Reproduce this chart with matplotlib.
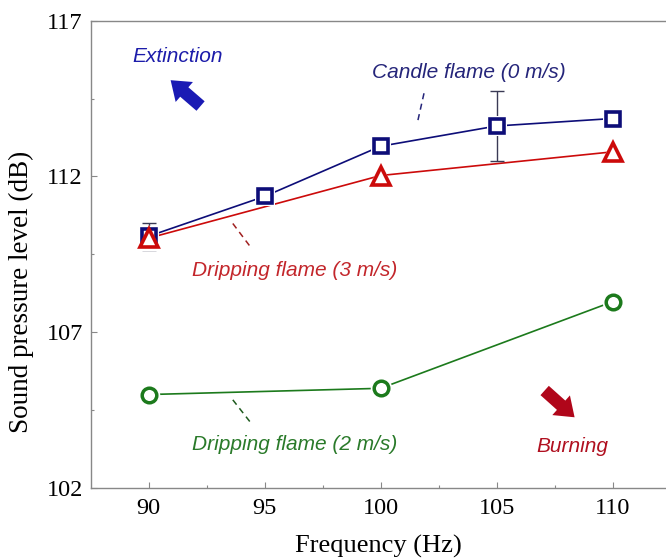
import matplotlib
matplotlib.use("Agg")
import matplotlib.pyplot as plt

# sound pressure level vs. excitation frequency
freq_candle = [90, 95, 100, 105, 110]
spl_candle = [110.08, 111.36, 112.97, 113.62, 113.86]
err_candle = [0.43, 0.0, 0.10, 1.13, 0.0]

freq_drip3 = [90, 100, 110]
spl_drip3 = [110.02, 112.03, 112.79]

freq_drip2 = [90, 100, 110]
spl_drip2 = [105.0, 105.2, 107.98]

xticks = [90, 95, 100, 105, 110]
yticks = [102, 107, 112, 117]

navy = "#0d0d78"
red = "#cc0a0a"
green = "#1c7a1c"

serif = "Liberation Serif"
sans = "Liberation Sans"

fig = plt.figure(figsize=(6.66, 5.59), dpi=100)
ax = fig.add_axes([0.136, 0.127, 0.864, 0.836])


def series(x, y, color, marker, ms, mew, lw=1.2):
    ax.plot(x, y, color=color, lw=lw, zorder=2)
    # white halo so the line stops short of each marker
    ax.plot(x, y, ls="none", marker=marker, ms=ms + 5, mfc="white",
            mec="white", mew=0, zorder=3)
    ax.plot(x, y, ls="none", marker=marker, ms=ms, mfc="white",
            mec=color, mew=mew, zorder=4)


# error bars of the candle flame
ax.errorbar(freq_candle, spl_candle, yerr=err_candle, fmt="none",
            ecolor="#3a3a55", elinewidth=1.0, capsize=5, capthick=1.0,
            zorder=2.5)

series(freq_drip2, spl_drip2, green, "o", 10.5, 2.5)
series(freq_candle, spl_candle, navy, "s", 9.5, 2.6)
series(freq_drip3, spl_drip3, red, "^", 13.5, 2.6)

ax.set_xlim(87.5, 112.3)
ax.set_ylim(102, 117)
ax.set_xticks(xticks)
ax.set_yticks(yticks)
ax.set_xticks([92.5, 97.5, 102.5, 107.5], minor=True)
ax.set_yticks([104.5, 109.5, 114.5], minor=True)
ax.tick_params(which="both", direction="in", color="#888888")
ax.tick_params(which="major", length=4, width=0.8, labelsize=17.5)
ax.tick_params(axis="x", which="major", pad=7)
ax.tick_params(axis="y", which="major", pad=5.5)
ax.tick_params(which="minor", length=2.5, width=0.8)
for lab in ax.get_xticklabels() + ax.get_yticklabels():
    lab.set_fontfamily(serif)

for side in ["left", "bottom", "top"]:
    ax.spines[side].set_color("#888888")
    ax.spines[side].set_linewidth(1.0)
ax.spines["right"].set_visible(False)

ax.set_xlabel("Frequency (Hz)", fontsize=19, fontfamily=serif, labelpad=12)
ax.set_ylabel("Sound pressure level (dB)", fontsize=19.5, fontfamily=serif)
ax.yaxis.set_label_coords(-0.099, 0.42)

# series labels with dashed leaders
txt = dict(fontsize=15, fontfamily=sans, style="italic", ha="center",
           va="center")
ax.text(103.79, 115.34, "Candle flame (0 m/s)", color="#25257a", **txt)
ax.plot([101.87, 101.58], [114.67, 113.71], ls=(0, (4, 3)), color="#25257a",
        lw=1.1)
ax.text(96.29, 108.98, "Dripping flame (3 m/s)", color="#c3262b", **txt)
ax.plot([93.63, 94.45], [110.49, 109.68], ls=(0, (4, 3)), color="#a02020",
        lw=1.1)
ax.text(96.29, 103.41, "Dripping flame (2 m/s)", color="#2a7a2a", **txt)
ax.plot([93.63, 94.45], [104.83, 104.05], ls=(0, (4, 3)), color="#1e5a1e",
        lw=1.1)

# trend arrows
arrow = "simple,head_length=13,head_width=19,tail_width=9"
ax.text(91.23, 115.84, "Extinction", color="#1c1caa", **txt)
ax.annotate("", xy=(90.95, 115.09), xytext=(92.24, 114.26),
            arrowprops=dict(arrowstyle=arrow, mutation_scale=1,
                            color="#1a1ab4", lw=0, shrinkA=0, shrinkB=0))
ax.text(108.25, 103.32, "Burning", color="#b01020", **txt)
ax.annotate("", xy=(108.36, 104.27), xytext=(107.07, 105.13),
            arrowprops=dict(arrowstyle=arrow, mutation_scale=1,
                            color="#b0061a", lw=0, shrinkA=0, shrinkB=0))

fig.savefig("out.png", dpi=100)
